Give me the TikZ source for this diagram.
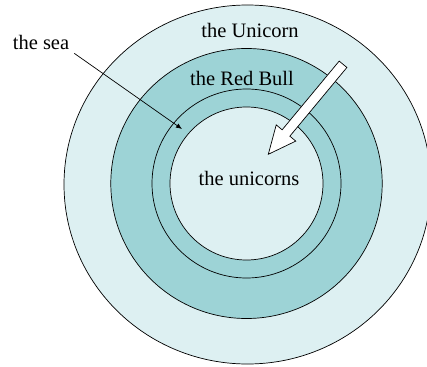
\documentclass[tikz,border=0pt]{standalone}
\usepackage{fontspec}
\setmainfont{Liberation Serif}
\usetikzlibrary{arrows.meta, positioning, calc}

\definecolor{ringlight}{RGB}{221,240,242}
\definecolor{ringdark}{RGB}{157,211,214}

\begin{document}
\begin{tikzpicture}[
    x=1pt, y=1pt,
    ring/.style={draw=black, line width=0.7pt, fill=#1},
    ring/.default=ringlight,
    lbl/.style={font=\fontsize{20.5}{24}\selectfont, inner sep=3pt},
    arr/.style={-{Latex[length=6pt, width=5pt]}, line width=0.7pt, draw=black},
    bigarr/.style={draw=black, fill=white, line width=0.7pt, line join=miter},
]

% --- frame ---
\useasboundingbox (0,0) rectangle (427,-366);

% --- rings, outside in ---
\coordinate (C) at (246.5,-183.5);
\draw [ring=ringlight] (247.5,-184.5) ellipse [x radius=183.5, y radius=179.5];
\draw [ring=ringdark]  (C) ellipse [x radius=135.7, y radius=135];
\draw [ring=ringdark]  (C) circle [radius=94.5];
\draw [ring=ringlight] (C) circle [radius=76.5];

% --- labels ---
\node (unicorn)  [lbl] at (250,-30)  {the Unicorn};
\node (redbull)  [lbl] at (242,-78)  {the Red Bull};
\node (unicorns) [lbl] at (249,-178) {the unicorns};
\node (sealbl)   [lbl] at (41,-42)   {the sea};

% --- the sea pointer ---
\coordinate (seatip) at (182,-129);
\draw [arr] ($(sealbl.south east)+(2,-1)$) -- (seatip);

% --- big hollow arrow ---
\coordinate (bigtail) at (343,-64.3);
\coordinate (bigtip)  at (268.3,-154.3);
\begin{scope}[shift={(bigtip)}, rotate=230.3]
    \draw [bigarr] (0,0) -- (-27.7,12.7) -- (-27.7,5) -- (-117,5)
        -- (-117,-5) -- (-27.7,-5) -- (-27.7,-12.7) -- cycle;
\end{scope}

\end{tikzpicture}
\end{document}
